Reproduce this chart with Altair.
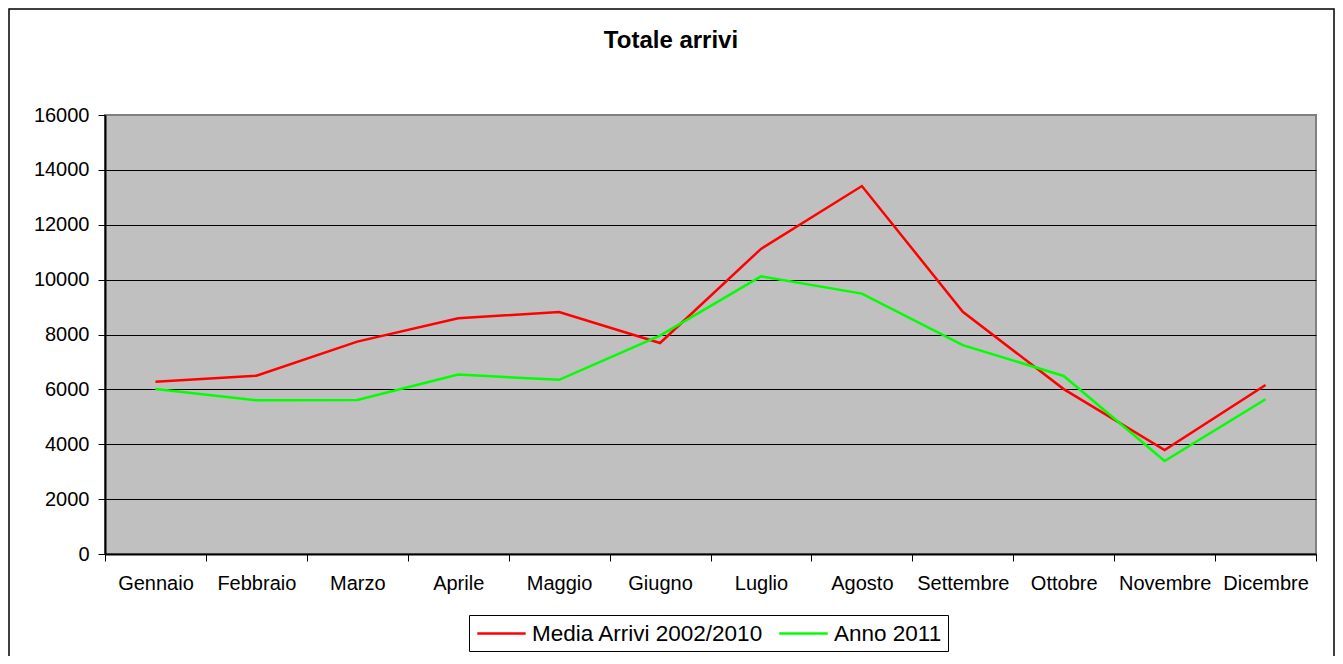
import altair as alt
import pandas as pd

months = ["Gennaio", "Febbraio", "Marzo", "Aprile", "Maggio", "Giugno",
          "Luglio", "Agosto", "Settembre", "Ottobre", "Novembre", "Dicembre"]
media = [6280, 6500, 7740, 8590, 8820, 7690, 11120, 13410, 8830, 6010, 3790, 6160]
anno = [6010, 5600, 5610, 6540, 6350, 7960, 10120, 9490, 7610, 6490, 3390, 5640]
series_names = ["Media Arrivi 2002/2010", "Anno 2011"]
series_colors = ["#FF0000", "#00FF00"]
y_ticks = [0, 2000, 4000, 6000, 8000, 10000, 12000, 14000, 16000]
title_text = "Totale arrivi"

rows = []
for m, v in zip(months, media):
    rows.append({"mese": m, "valore": v, "serie": series_names[0]})
for m, v in zip(months, anno):
    rows.append({"mese": m, "valore": v, "serie": series_names[1]})
df = pd.DataFrame(rows)

FONT = "Liberation Sans"

x_enc = alt.X("mese:N", sort=months,
              scale=alt.Scale(type="band", paddingInner=0, paddingOuter=0),
              axis=alt.Axis(title=None, labelAngle=0, tickBand="extent", grid=False,
                            domainColor="black", domainWidth=2, tickColor="black",
                            tickSize=7, labelFontSize=20, labelFont=FONT,
                            labelColor="black", labelPadding=12))
y_enc = alt.Y("valore:Q", scale=alt.Scale(domain=[0, 16000], nice=False),
              axis=alt.Axis(title=None, values=y_ticks, format="d", grid=True,
                            gridColor={"condition": {"test": "datum.value >= 16000",
                                                     "value": "#808080"},
                                       "value": "black"},
                            gridWidth=1, domainColor="black",
                            domainWidth=2, tickColor="black", tickSize=7,
                            labelFontSize=20, labelFont=FONT, labelColor="black",
                            labelPadding=9))
color_enc = alt.Color("serie:N",
                      scale=alt.Scale(domain=series_names, range=series_colors),
                      legend=alt.Legend(title=None, orient="none", legendX=364, legendY=500,
                                        direction="horizontal",
                                        symbolType="M-2.2,0H2.2",
                                        symbolSize=484, symbolStrokeWidth=2.5,
                                        symbolOffset=14, symbolFillColor="transparent",
                                        labelFontSize=22.5, labelFont=FONT,
                                        labelColor="black", labelOffset=18,
                                        labelLimit=500,
                                        columnPadding=10, padding=6,
                                        strokeColor="black", fillColor="white"))

red = alt.Chart(df).transform_filter(
    alt.datum.serie == series_names[0]
).mark_line(strokeWidth=2.5).encode(x=x_enc, y=y_enc, color=color_enc)

green = alt.Chart(df).transform_filter(
    alt.datum.serie == series_names[1]
).mark_line(strokeWidth=2.5).encode(x=x_enc, y=y_enc, color=color_enc)

deco = pd.DataFrame({"t": [title_text]})
title = alt.Chart(deco).mark_text(fontSize=24, fontWeight="bold", font=FONT,
                                  color="black", baseline="alphabetic",
                                  align="center").encode(
    x=alt.value(566), y=alt.value(-67), text="t:N")
border = alt.Chart(deco).mark_rect(filled=False, stroke="black", strokeWidth=1.5).encode(
    x=alt.value(-96), x2=alt.value(1229), y=alt.value(-106), y2=alt.value(600))

chart = alt.layer(border, red, green, title).properties(
    width=1211, height=439,
    autosize=alt.AutoSizeParams(type="none"),
    padding={"left": 97, "top": 107, "right": 19, "bottom": 102},
    background="white",
).configure_view(fill="#C0C0C0", stroke="#808080", strokeWidth=2)

chart.save("out.html", embed_options={"renderer": "svg", "actions": False})
